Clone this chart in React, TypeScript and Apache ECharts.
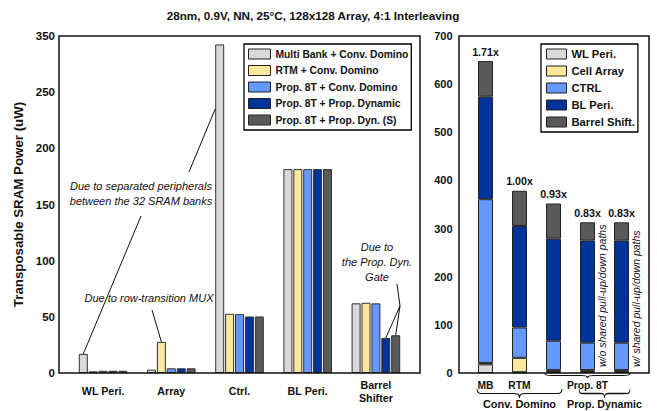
import React, { useEffect, useRef } from 'react';
import * as echarts from 'echarts';

const FONT = "'Liberation Sans', Arial, Helvetica, sans-serif";
const INK = '#111';

// ---- Left panel: power per SRAM component, one bar per design ----
const componentNames = ['WL Peri.', 'Array', 'Ctrl.', 'BL Peri.', 'Barrel\nShifter'];
const designNames = [
  'Multi Bank + Conv. Domino',
  'RTM + Conv. Domino',
  'Prop. 8T + Conv. Domino',
  'Prop. 8T + Prop. Dynamic',
  'Prop. 8T + Prop. Dyn. (S)',
];
const multiBankConv = [17, 3, 335, 181.5, 62];
const rtmConv = [1.5, 27.7, 52.7, 181.5, 62.5];
const prop8tConv = [2, 4.2, 52.4, 181.5, 62];
const prop8tDyn = [2, 4.2, 50.3, 181.5, 31.2];
const prop8tDynS = [2, 4.2, 50.3, 181.5, 33.6];
const leftTicks = [0, 50, 100, 150, 200, 250, 350];

// ---- Right panel: stacked breakdown per design ----
const designKeys = ['MB', 'RTM', 'Prop. 8T', 'Prop. 8T Dyn.', 'Prop. 8T Dyn. (S)'];
const breakdownNames = ['WL Peri.', 'Cell Array', 'CTRL', 'BL Peri.', 'Barrel Shift.'];
const wlPeri = [18, 1.5, 2, 2, 2];
const cellArray = [3, 30, 4, 4, 4];
const ctrl = [340, 63, 61, 57, 57];
const blPeri = [213, 211, 212, 212, 212];
const barrelShift = [74, 73, 73, 38, 38];

const palette = ['#d9d9d9', '#fbe89a', '#6699ff', '#003399', '#595959'];

// The left value axis is compressed above 250 (one tick step covers 250 -> 350).
const BREAK_AT = 250;
const toAxis = (v: number) => (v <= BREAK_AT ? v : BREAK_AT + (v - BREAK_AT) / 2);
const fromAxis = (a: number) => (a <= BREAK_AT ? a : BREAK_AT + (a - BREAK_AT) * 2);

const LEFT_BAR_W = 9;
const LEFT_GAP = 0.1;
const RIGHT_BAR_W = 15;

const BRACE_D = 'M0,0 C0,5 3,5 8,5 L42,5 C47,5 50,5 50,10 C50,5 53,5 58,5 L92,5 C97,5 100,5 100,0';

const totals = designKeys.map((_, i) => wlPeri[i] + cellArray[i] + ctrl[i] + blPeri[i] + barrelShift[i]);

function buildOption(): any {
  const leftSeries = [multiBankConv, rtmConv, prop8tConv, prop8tDyn, prop8tDynS].map((vals, i) => ({
    name: designNames[i],
    type: 'bar',
    xAxisIndex: 0,
    yAxisIndex: 0,
    barWidth: LEFT_BAR_W,
    barGap: `${LEFT_GAP * 100}%`,
    itemStyle: { color: palette[i], borderColor: '#333', borderWidth: 1 },
    data: vals.map(toAxis),
  }));
  const rightSeries = [wlPeri, cellArray, ctrl, blPeri, barrelShift].map((vals, i) => ({
    name: breakdownNames[i],
    type: 'bar',
    stack: 'total',
    xAxisIndex: 1,
    yAxisIndex: 1,
    barWidth: RIGHT_BAR_W,
    itemStyle: { color: palette[i], borderColor: '#222', borderWidth: 1 },
    label:
      i === 4
        ? {
            show: true,
            position: 'top',
            distance: 4,
            fontFamily: FONT,
            fontWeight: 'bold',
            fontSize: 10.7,
            color: INK,
            formatter: (p: any) => (totals[p.dataIndex] / totals[1]).toFixed(2) + 'x',
          }
        : { show: false },
    data: vals,
  }));

  const valueAxisCommon = {
    type: 'value',
    axisLine: { show: false },
    axisTick: { show: false },
    splitLine: { show: false },
  };

  return {
    animation: false,
    textStyle: { fontFamily: FONT },
    grid: [
      { left: 69, right: 247, top: 36, bottom: 38 },
      { left: 468.5, right: 18.5, top: 36, bottom: 38 },
    ],
    legend: [
      {
        data: designNames,
        orient: 'vertical',
        left: 244,
        top: 44,
        padding: [4, 3, 4, 4],
        itemGap: 4.5,
        itemWidth: 22,
        itemHeight: 10,
        icon: 'rect',
        borderColor: '#000',
        borderWidth: 1.3,
        itemStyle: { borderColor: '#222', borderWidth: 1 },
        textStyle: { fontFamily: FONT, fontWeight: 'bold', fontSize: 10.3, lineHeight: 12, color: INK },
      },
      {
        data: breakdownNames,
        orient: 'vertical',
        left: 541,
        top: 44,
        padding: [4, 3, 4, 5],
        itemGap: 5,
        itemWidth: 20,
        itemHeight: 10,
        icon: 'rect',
        borderColor: '#000',
        borderWidth: 1.3,
        itemStyle: { borderColor: '#222', borderWidth: 1 },
        textStyle: { fontFamily: FONT, fontWeight: 'bold', fontSize: 11.2, lineHeight: 12, color: INK },
      },
    ],
    xAxis: [
      {
        type: 'category',
        gridIndex: 0,
        data: componentNames,
        axisLine: { show: false },
        axisTick: { show: false },
        axisLabel: {
          interval: 0,
          margin: 18,
          verticalAlign: 'middle',
          lineHeight: 13,
          fontFamily: FONT,
          fontWeight: 'bold',
          fontSize: 10.7,
          color: INK,
        },
      },
      {
        type: 'category',
        gridIndex: 1,
        data: designKeys,
        axisLine: { show: false },
        axisTick: { show: false },
        axisLabel: { show: false },
      },
    ],
    yAxis: [
      {
        ...valueAxisCommon,
        gridIndex: 0,
        min: 0,
        max: toAxis(leftTicks[leftTicks.length - 1]),
        interval: 50,
        name: 'Transposable SRAM Power (uW)',
        nameLocation: 'middle',
        nameRotate: 90,
        nameGap: 44,
        nameTextStyle: { fontFamily: FONT, fontWeight: 'bold', fontSize: 13.3, color: INK },
        axisLabel: {
          margin: 14,
          fontFamily: FONT,
          fontWeight: 'bold',
          fontSize: 11.5,
          color: INK,
          formatter: (v: number) => String(fromAxis(v)),
        },
      },
      {
        ...valueAxisCommon,
        gridIndex: 1,
        min: 0,
        max: 700,
        interval: 100,
        axisLabel: { margin: 16, fontFamily: FONT, fontWeight: 'bold', fontSize: 11, color: INK },
      },
    ],
    series: [...leftSeries, ...rightSeries],
  };
}

function buildGraphics(chart: any): any[] {
  const p0 = (cat: number, val: number) => chart.convertToPixel({ gridIndex: 0 }, [cat, toAxis(val)]) as number[];
  const p1 = (cat: number, val: number) => chart.convertToPixel({ gridIndex: 1 }, [cat, val]) as number[];
  const step = LEFT_BAR_W * (1 + LEFT_GAP);
  const barX = (s: number, cat: number) => p0(cat, 0)[0] + (s - 2) * step;
  const leftData = [multiBankConv, rtmConv, prop8tConv, prop8tDyn, prop8tDynS];
  const top0 = (s: number, cat: number) => [barX(s, cat), p0(cat, leftData[s][cat])[1]];

  const noteStyle = { fontFamily: FONT, fontStyle: 'italic', fontSize: 11, fill: INK };
  const line = (a: number[], b: number[]) => ({
    type: 'line',
    z: 20,
    shape: { x1: a[0], y1: a[1], x2: b[0], y2: b[1] },
    style: { stroke: INK, lineWidth: 1 },
  });
  const text = (x: number, y: number, t: string, extra: any = {}) => ({
    type: 'text',
    z: 20,
    x,
    y,
    style: { text: t, textAlign: 'center', textVerticalAlign: 'middle', ...noteStyle, ...extra },
  });
  const bold = (size: number) => ({ fontStyle: 'normal', fontWeight: 'bold', fontSize: size });
  const brace = (x1: number, x2: number, y: number, h: number) => ({
    type: 'brace',
    z: 20,
    x: x1,
    y,
    scaleX: (x2 - x1) / 100,
    scaleY: h / 10,
    style: { fill: 'none', stroke: INK, lineWidth: 1, strokeNoScale: true },
  });

  const ctrlMbLeft = barX(0, 2) - LEFT_BAR_W / 2;
  const barrelJoin = [400, 306];

  const cx = (cat: number) => p1(cat, 0)[0];
  const half = RIGHT_BAR_W / 2;

  return [
    // title
    text(313, 15, '28nm, 0.9V, NN, 25°C, 128x128 Array, 4:1 Interleaving', bold(11.7)),
    // panel frames
    {
      type: 'rect',
      z: 15,
      shape: { x: 59, y: 36, width: 361, height: 337 },
      style: { fill: 'none', stroke: INK, lineWidth: 1.5 },
    },
    {
      type: 'rect',
      z: 15,
      shape: { x: 459, y: 36, width: 190, height: 337 },
      style: { fill: 'none', stroke: INK, lineWidth: 1.5 },
    },
    // left annotations
    text(141, 193.5, 'Due to separated peripherals\nbetween the 32 SRAM banks', { lineHeight: 15 }),
    line([189, 172], [ctrlMbLeft, 109]),
    line([141, 216], top0(0, 0)),
    text(149, 298, 'Due to row-transition MUX'),
    line([152, 310], top0(1, 1)),
    text(377, 262, 'Due to\nthe Prop. Dyn.\nGate', { lineHeight: 15 }),
    line([397, 284], barrelJoin),
    line(barrelJoin, top0(3, 4)),
    line(barrelJoin, top0(4, 4)),
    // right panel category labels and groupings
    brace(cx(2) - half - 1, cx(4) + half + 1, 373, 5),
    text(cx(0), 385, 'MB', bold(10.3)),
    text(cx(1), 385, 'RTM', bold(10.3)),
    text(cx(3), 385, 'Prop. 8T', bold(10.3)),
    brace(cx(0) - half - 1, cx(2) + half + 1, 389, 9),
    brace(cx(3) - half - 1, cx(4) + half + 1, 389, 9),
    text(cx(1), 404, 'Conv. Domino', bold(10.9)),
    text((cx(3) + cx(4)) / 2, 404, 'Prop. Dynamic', bold(10.7)),
    // rotated notes beside the dynamic-gate bars
    {
      ...text(cx(3) + half + 7, 367, 'w/o shared pull-up/down paths', { textAlign: 'left', fontSize: 10.5 }),
      rotation: Math.PI / 2,
    },
    {
      ...text(cx(4) + half + 7, 367, 'w/ shared pull-up/down paths', { textAlign: 'left', fontSize: 10.5 }),
      rotation: Math.PI / 2,
    },
  ];
}

export default function App() {
  const ref = useRef<HTMLDivElement>(null);
  useEffect(() => {
    const el = ref.current;
    if (!el) return;
    echarts.graphic.registerShape('brace', echarts.graphic.extendPath(BRACE_D, {}) as any);
    const chart = echarts.init(el, null, { renderer: 'svg' });
    chart.setOption(buildOption());
    chart.setOption({ graphic: buildGraphics(chart) });
    return () => chart.dispose();
  }, []);
  return (
    <div
      ref={ref}
      style={{ position: 'absolute', left: 0, top: 0, width: 657, height: 411, background: '#fff' }}
    />
  );
}
